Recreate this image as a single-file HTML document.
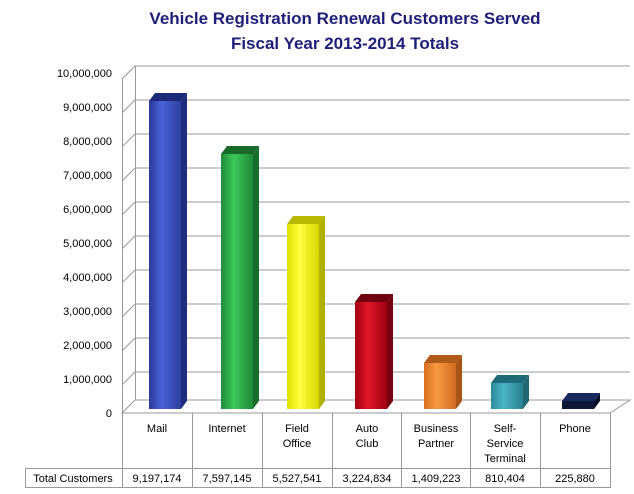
<!DOCTYPE html>
<html><head><style>body{margin:0;background:#fff}svg{display:block}</style></head><body>
<svg width="634" height="494" xmlns="http://www.w3.org/2000/svg" font-family="Liberation Sans, sans-serif">
<defs>
<linearGradient id="g1" x1="0" x2="1"><stop offset="0" stop-color="#2a3a9a"/><stop offset=".4" stop-color="#4a62d8"/><stop offset="1" stop-color="#2d3f9e"/></linearGradient>
<linearGradient id="g2" x1="0" x2="1"><stop offset="0" stop-color="#1e8a36"/><stop offset=".4" stop-color="#3cc85a"/><stop offset="1" stop-color="#1e8a36"/></linearGradient>
<linearGradient id="g3" x1="0" x2="1"><stop offset="0" stop-color="#e0e000"/><stop offset=".4" stop-color="#ffff40"/><stop offset="1" stop-color="#d6d600"/></linearGradient>
<linearGradient id="g4" x1="0" x2="1"><stop offset="0" stop-color="#a00010"/><stop offset=".4" stop-color="#e01828"/><stop offset="1" stop-color="#a00012"/></linearGradient>
<linearGradient id="g5" x1="0" x2="1"><stop offset="0" stop-color="#d87020"/><stop offset=".4" stop-color="#f89a40"/><stop offset="1" stop-color="#d06a20"/></linearGradient>
<linearGradient id="g6" x1="0" x2="1"><stop offset="0" stop-color="#2a8a9a"/><stop offset=".4" stop-color="#4ab4c4"/><stop offset="1" stop-color="#2a8090"/></linearGradient>
</defs>
<text x="345" y="24" text-anchor="middle" font-size="17" font-weight="bold" fill="#1f1f7a">Vehicle Registration Renewal Customers Served</text>
<text x="345" y="49" text-anchor="middle" font-size="17" font-weight="bold" fill="#1f1f7a">Fiscal Year 2013-2014 Totals</text>
<g stroke="#999" stroke-width="1" fill="none">
<line x1="122.5" y1="79" x2="122.5" y2="413"/>
<line x1="135.5" y1="66" x2="135.5" y2="400"/>
<path d="M122 79L135 66H630M122 113L135 100H630M122 147L135 134H630M122 181L135 168H630M122 215L135 202H630M122 249L135 236H630M122 283L135 270H630M122 317L135 304H630M122 351L135 338H630M122 385L135 372H630"/>
<path d="M122 413L135 400H630L610 413Z" fill="#fff"/>
</g>
<g font-size="11" fill="#000" text-anchor="end">
<text x="112" y="77">10,000,000</text><text x="112" y="111">9,000,000</text><text x="112" y="145">8,000,000</text><text x="112" y="179">7,000,000</text><text x="112" y="213">6,000,000</text><text x="112" y="247">5,000,000</text><text x="112" y="281">4,000,000</text><text x="112" y="315">3,000,000</text><text x="112" y="349">2,000,000</text><text x="112" y="383">1,000,000</text><text x="112" y="417">0</text>
</g>
<g>
<!-- bar: x, top -->
<path d="M149 101h32v308h-32z" fill="url(#g1)"/><path d="M149 101l6-8h32l-6 8z" fill="#1c2878"/><path d="M181 101l6-8v308l-6 8z" fill="#1f2c80"/>
<path d="M221 154h32v255h-32z" fill="url(#g2)"/><path d="M221 154l6-8h32l-6 8z" fill="#176a2a"/><path d="M253 154l6-8v255l-6 8z" fill="#186e2c"/>
<path d="M287 224h32v185h-32z" fill="url(#g3)"/><path d="M287 224l6-8h32l-6 8z" fill="#b8b800"/><path d="M319 224l6-8v185l-6 8z" fill="#b0b000"/>
<path d="M355 302h32v107h-32z" fill="url(#g4)"/><path d="M355 302l6-8h32l-6 8z" fill="#700010"/><path d="M387 302l6-8v107l-6 8z" fill="#780010"/>
<path d="M424 363h32v46h-32z" fill="url(#g5)"/><path d="M424 363l6-8h32l-6 8z" fill="#b05a18"/><path d="M456 363l6-8v46l-6 8z" fill="#a85418"/>
<path d="M491 383h32v26h-32z" fill="url(#g6)"/><path d="M491 383l6-8h32l-6 8z" fill="#1e6a78"/><path d="M523 383l6-8v26l-6 8z" fill="#206874"/>
<path d="M562 401h32v8h-32z" fill="#101838"/><path d="M562 401l6-8h32l-6 8z" fill="#1a2860"/><path d="M594 401l6-8v8l-6 8z" fill="#0a1028"/>
</g>
<g stroke="#999" fill="none">
<path d="M122.5 413V487M192.5 413V487M262.5 413V487M332.5 413V487M401.5 413V487M470.5 413V487M540.5 413V487M610.5 413V487M25.5 468V487M25 468.5H611M25 487.5H611"/>
</g>
<g font-size="11" fill="#000" text-anchor="middle">
<text x="157" y="432">Mail</text>
<text x="227" y="432">Internet</text>
<text x="297" y="432">Field</text><text x="297" y="447">Office</text>
<text x="367" y="432">Auto</text><text x="367" y="447">Club</text>
<text x="436" y="432">Business</text><text x="436" y="447">Partner</text>
<text x="505" y="432">Self-</text><text x="505" y="447">Service</text><text x="505" y="462">Terminal</text>
<text x="575" y="432">Phone</text>
<text x="73" y="482">Total Customers</text>
<text x="157" y="482">9,197,174</text><text x="227" y="482">7,597,145</text><text x="297" y="482">5,527,541</text><text x="367" y="482">3,224,834</text><text x="436" y="482">1,409,223</text><text x="505" y="482">810,404</text><text x="575" y="482">225,880</text>
</g>
</svg>
</body></html>
